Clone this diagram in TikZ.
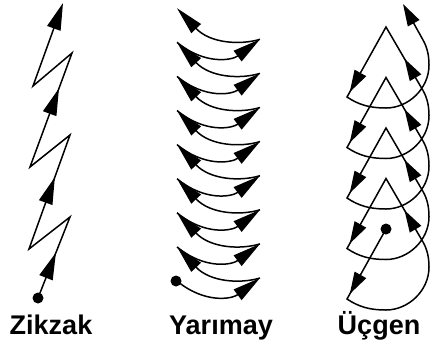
\documentclass[tikz,border=0pt]{standalone}
\usepackage{fontspec}
\setmainfont{Liberation Sans}
\usetikzlibrary{arrows.meta,decorations.markings}
\tikzset{
  ln/.style={line width=1.5pt, line join=miter, miter limit=10},
  dotn/.style={circle, fill=black, inner sep=0pt, minimum size=11pt},
  lbl/.style={font=\bfseries\fontsize{27}{27}\selectfont, anchor=base},
  zend/.style={-{Triangle[length=27pt,width=14pt]}},
  yend/.style={-{Triangle[length=28pt,width=13pt]}},
  uend/.style={-{Triangle[length=22pt,width=13pt]}},
  zmarks/.style={postaction={decorate}, decoration={markings,
     mark=at position 48.8pt with {\arrow{Triangle[length=27pt,width=14pt]}},
     mark=at position 215.4pt with {\arrow{Triangle[length=27pt,width=14pt]}},
     mark=at position 395.3pt with {\arrow{Triangle[length=27pt,width=14pt]}}}},
  umarks/.style={postaction={decorate}, decoration={markings,
     mark=at position 36.8pt with {\arrow{Triangle[length=22pt,width=13pt]}},
     mark=at position 148pt with {\arrow{Triangle[length=22pt,width=13pt]}}}},
  ufirst/.style={postaction={decorate}, decoration={markings,
     mark=at position 74.5pt with {\arrow{Triangle[length=22pt,width=13pt]}}}},
}
\begin{document}
\begin{tikzpicture}[x=1pt,y=-1pt]
\useasboundingbox (0,0) rectangle (433,354);

% ---------- Zikzak ----------
\node[dotn] (zd) at (38,298) {};
\coordinate (z1) at (70,217);
\coordinate (z2) at (29,249);
\coordinate (z3) at (70,135);
\coordinate (z4) at (30,167);
\coordinate (z5) at (72,53);
\coordinate (z6) at (33,86);
\coordinate (z7) at (63,3);
\draw[ln,zend,zmarks] (zd.center) -- (z1) -- (z2) -- (z3) -- (z4) -- (z5) -- (z6) -- (z7);

% ---------- Yarimay ----------
\node[dotn] (yd) at (176,281) {};
\foreach \k in {0,...,7}{
  \pgfmathsetmacro\yy{281-34.1*\k}
  \pgfmathsetmacro\yr{\yy-3}
  \pgfmathsetmacro\yn{\yy-34.1}
  \coordinate (yl\k) at (177,\yy);
  \coordinate (yr\k) at (260,\yr);
  \coordinate (yn\k) at (177,\yn);
  \draw[ln,yend] (yl\k) .. controls (205,\yy+23) and (232,\yy+18) .. (yr\k);
  \draw[ln,yend] (yr\k) .. controls (240,\yr+6) and (210,\yr+4) .. (yn\k);
}

% ---------- Ucgen ----------
\node[dotn] (ud) at (386,229) {};
\coordinate (ul5) at (347,299);
\coordinate (ut5) at (423,242);
\draw[ln,ufirst] (ud.center) -- (ul5)
  .. controls (359,307) and (370,310) .. (386,310)
  .. controls (408,310) and (429,291) .. (429,267)
  .. controls (429,257) and (427,249) .. (ut5);
\foreach \i/\a/\b in {4/178.5/229, 3/128/178.5, 2/77.5/128}{
  \coordinate (ua\i) at (386,\a);
  \coordinate (ul\i) at (347,\a+70);
  \coordinate (ut\i) at (423,\a+13);
  \draw[ln,umarks] (423,\b+13) -- (ua\i) -- (ul\i)
    .. controls (359,\a+78) and (370,\a+81) .. (386,\a+81)
    .. controls (408,\a+81) and (429,\a+62) .. (429,\a+38)
    .. controls (429,\a+28) and (427,\a+20) .. (ut\i);
}
\coordinate (ua1) at (386,27);
\coordinate (ul1) at (347,97);
\coordinate (ut1) at (423,40);
\coordinate (utip) at (403,4);
\draw[ln,umarks,uend] (ut2) -- (ua1) -- (ul1)
    .. controls (359,105) and (370,108) .. (386,108)
    .. controls (408,108) and (429,89) .. (429,65)
    .. controls (429,55) and (427,47) .. (ut1) -- (utip);

% ---------- labels ----------
\node[lbl] (lz) at (51,334) {Zikzak};
\node[lbl] (ly) at (221,334) {Yarımay};
\node[lbl] (lu) at (379,334) {Üçgen};
\end{tikzpicture}
\end{document}
